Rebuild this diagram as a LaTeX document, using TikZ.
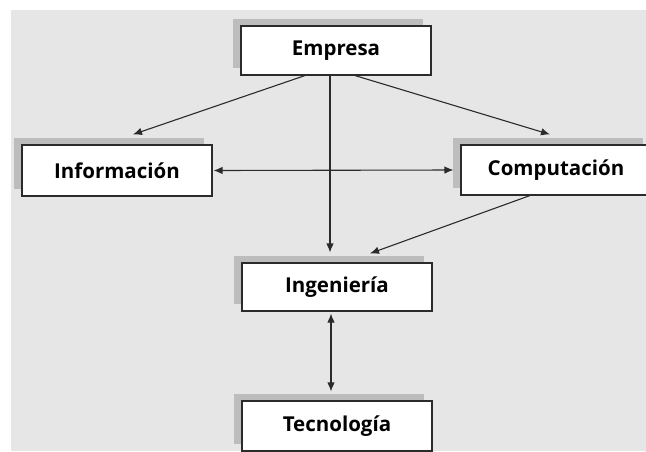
\documentclass[tikz,border=0pt]{standalone}
\usepackage{fontspec}
\setmainfont{Open Sans}
\usetikzlibrary{arrows.meta,calc,shadows}
\definecolor{paper}{HTML}{E6E6E6}
\definecolor{shade}{HTML}{BDBDBD}
\definecolor{ink}{HTML}{2B2B2B}
\tikzset{
  conceptbox/.style={draw=ink, line width=1.1pt, fill=white,
    minimum width=190pt, inner sep=0pt,
    font=\fontsize{20.5}{24}\selectfont\bfseries,
    copy shadow={shadow xshift=-8pt, shadow yshift=7pt, fill=shade, draw=none}},
  link/.style={draw=ink, line width=1.1pt, -{Latex[length=9pt,width=7.5pt]}},
  twoway/.style={link, {Latex[length=9pt,width=7.5pt]}-{Latex[length=9pt,width=7.5pt]}}
}
\begin{document}
\begin{tikzpicture}[x=1pt,y=-1pt]
  \useasboundingbox (0,0) rectangle (646,451);
  \begin{scope}
    \clip (0,0) rectangle (646,451);
    \fill[paper] (11,10) rectangle (646,451);

    \node[conceptbox, minimum height=49pt] (emp)  at (336,50.5)  {Empresa};
    \node[conceptbox, minimum height=51pt] (info) at (117,170.5) {Información};
    \node[conceptbox, minimum height=50pt] (comp) at (556,170)   {Computación};
    \node[conceptbox, minimum height=48pt] (ing)  at (337,287)   {Ingeniería};
    \node[conceptbox, minimum height=50pt] (tec)  at (337,426)   {Tecnología};

    \draw[link] ($(emp.south)+(-31,0)$) -- ($(info.north)+(16,-10)$);
    \draw[link] ($(emp.south)+(-6,0)$)  -- ($(ing.north)+(-7,-10)$);
    \draw[link] ($(emp.south)+(19,0)$)  -- ($(comp.north)+(-6,-10)$);
    \draw[twoway] ($(info.east)+(1,0)$) -- ($(comp.west)+(-7,0)$);
    \draw[link] ($(comp.south)+(-26,0)$) -- ($(ing.north)+(33,-9)$);
    \draw[twoway] ($(ing.south)+(-6,2)$) -- ($(tec.north)+(-6,-9)$);
  \end{scope}
\end{tikzpicture}
\end{document}
